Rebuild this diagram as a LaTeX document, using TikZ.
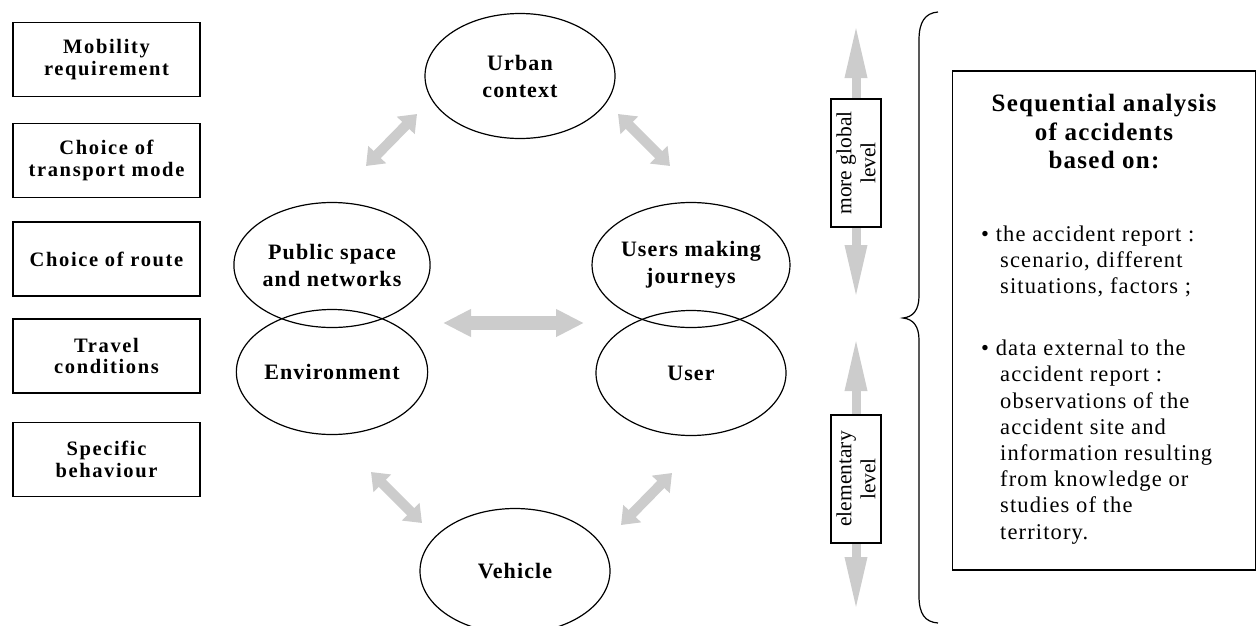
\documentclass[tikz,border=0pt]{standalone}
\usepackage{fontspec}
\setmainfont{Liberation Serif}
\newfontfamily\boxface[LetterSpace=8]{Liberation Serif}
\newfontfamily\ellface[LetterSpace=5]{Liberation Serif}
\newfontfamily\rightface[LetterSpace=5]{Liberation Serif}
\usetikzlibrary{shapes.geometric,arrows.meta}
\definecolor{arrowgray}{RGB}{204,204,204}
\begin{document}
\begin{tikzpicture}[x=1pt,y=-1pt,
  leftbox/.style={draw, line width=1.2pt, minimum width=187pt, minimum height=74pt, inner sep=0pt, align=center,
    font=\boxface\bfseries\fontsize{20.5}{21.5}\selectfont},
  ell/.style={draw, ellipse, line width=1.2pt, minimum width=190pt, minimum height=125pt, inner sep=0pt, align=center,
    font=\ellface\bfseries\fontsize{22}{27}\selectfont},
  levelbox/.style={draw, fill=white, line width=1.2pt, rotate=90, minimum width=128pt, minimum height=50pt, inner sep=0pt, align=center,
    font=\fontsize{21.5}{24}\selectfont},
  varrow/.style={draw=arrowgray, line width=9pt, {Triangle[width=20pt,length=55pt]}-{Triangle[width=20pt,length=55pt]}},
  harrow/.style={draw=arrowgray, line width=14pt, {Triangle[width=26pt,length=28pt]}-{Triangle[width=26pt,length=28pt]}},
  darrow/.style={draw=arrowgray, line width=10pt, {Triangle[width=24pt,length=16pt]}-{Triangle[width=24pt,length=16pt]}},
  bracestyle/.style={draw, line width=1.2pt}
]
\useasboundingbox (0,0) rectangle (1257,625);

% left column boxes
\node[leftbox] (mob) at (106.5,59.5) {Mobility\\requirement};
\node[leftbox] (mode) at (106.5,160.5) {Choice of\\transport mode};
\node[leftbox] (route) at (106.5,259) {Choice of route};
\node[leftbox] (travel) at (106.5,356) {Travel\\conditions};
\node[leftbox] (behav) at (106.5,459.5) {Specific\\behaviour};

% ellipses
\node[ell] (urban) at (520,76) {Urban\\context};
\node[ell] (public) at (332,265) {Public space\\and networks};
\node[ell] (users) at (691,265) {Users making\\journeys};
\node[ell] (env) at (332,372) {Environment};
\node[ell] (user) at (691,373) {User};
\node[ell] (vehicle) at (515,571) {Vehicle};

% arrow end points
\coordinate (a1s) at (366,166); \coordinate (a1e) at (417,114);
\coordinate (a2s) at (618,114); \coordinate (a2e) at (670,166);
\coordinate (a3s) at (443,323); \coordinate (a3e) at (584,323);
\coordinate (a4s) at (371,472); \coordinate (a4e) at (422,523);
\coordinate (a5s) at (621,525); \coordinate (a5e) at (672,473);
\coordinate (v1s) at (856,23);  \coordinate (v1e) at (856,300);
\coordinate (v2s) at (856,336); \coordinate (v2e) at (856,612);

\draw[darrow] (a1s) -- (a1e);
\draw[darrow] (a2s) -- (a2e);
\draw[harrow] (a3s) -- (a3e);
\draw[darrow] (a4s) -- (a4e);
\draw[darrow] (a5s) -- (a5e);
\draw[varrow] (v1s) -- (v1e);
\draw[varrow] (v2s) -- (v2e);

% level boxes
\node[levelbox] (global) at (856,163) {more global\\level};
\node[levelbox] (elem) at (856,479) {elementary\\level};

% brace
\coordinate (bt) at (938,12);
\coordinate (bm) at (903,318);
\coordinate (bb) at (938,623);
\draw[bracestyle] (bt) .. controls (925,13) and (919,22) .. (919,40) -- (919,296)
  .. controls (919,310) and (913,317) .. (bm)
  .. controls (913,319) and (919,326) .. (919,340) -- (919,596)
  .. controls (919,614) and (925,622) .. (bb);

% right box
\node[draw, line width=1.2pt, minimum width=303pt, minimum height=499pt, inner sep=0pt] (analysis) at (1103.8,320.5) {};
\node[anchor=north, inner sep=0pt, align=center, font=\rightface\bfseries\fontsize{25}{28.5}\selectfont] (title) at (1104,94)
  {Sequential analysis\\of accidents\\based on:};
\node[anchor=north west, inner sep=0pt, align=left, font=\rightface\fontsize{22.5}{26.2}\selectfont] (bullets) at (981,225.6)
  {\textbullet\ the accident report :\\
   \hspace*{19pt}scenario, different\\
   \hspace*{19pt}situations, factors ;\\[35.7pt]
   \textbullet\ data external to the\\
   \hspace*{19pt}accident report :\\
   \hspace*{19pt}observations of the\\
   \hspace*{19pt}accident site and\\
   \hspace*{19pt}information resulting\\
   \hspace*{19pt}from knowledge or\\
   \hspace*{19pt}studies of the\\
   \hspace*{19pt}territory.};
\end{tikzpicture}
\end{document}
